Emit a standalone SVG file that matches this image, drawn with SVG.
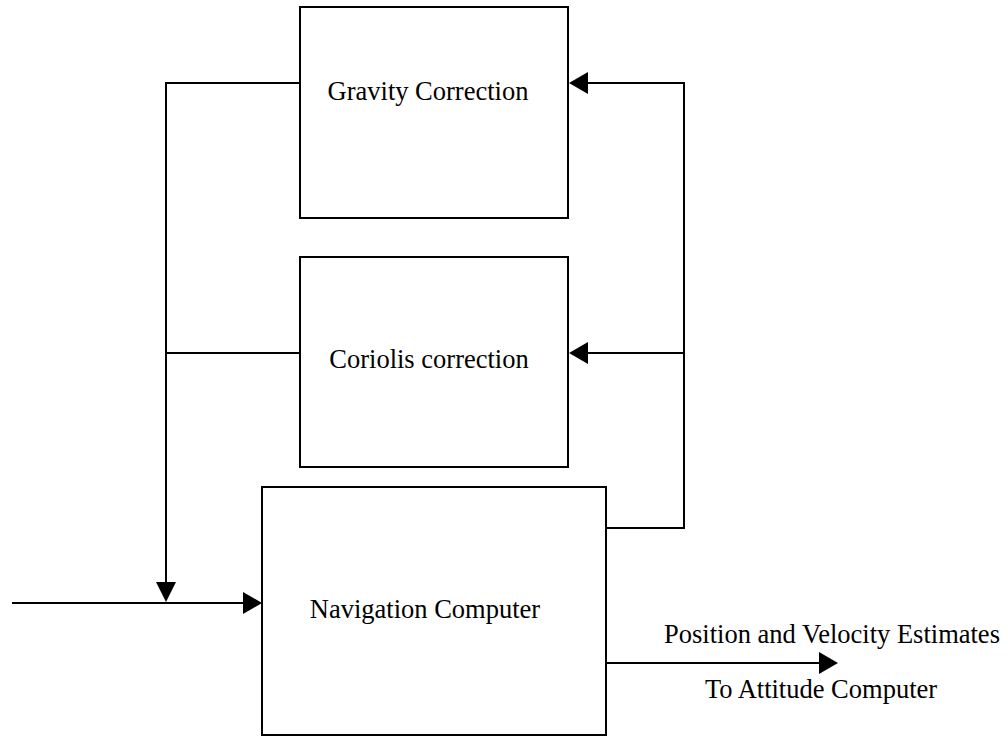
<svg xmlns="http://www.w3.org/2000/svg" width="1007" height="738" viewBox="0 0 1007 738">
<style>
.box{fill:#fff;stroke:#000;stroke-width:2}
.ln{fill:none;stroke:#000;stroke-width:2}
.ah{fill:#000;stroke:none}
text{font-family:"Liberation Serif","Times New Roman",serif;font-size:26.5px;fill:#000}
.c{text-anchor:middle}
</style>
<rect width="1007" height="738" fill="#fff"/>
<g id="gravity">
<rect class="box" x="300" y="7" width="268" height="211"/>
<text class="c" x="428" y="100">Gravity Correction</text>
</g>
<g id="coriolis">
<rect class="box" x="300" y="257" width="268" height="210"/>
<text class="c" x="429" y="368">Coriolis correction</text>
</g>
<g id="nav">
<rect class="box" x="262" y="487" width="344" height="248"/>
<text class="c" x="425" y="618">Navigation Computer</text>
</g>
<g id="connectors">
<polyline class="ln" points="300,83 166,83 166,584"/>
<line class="ln" x1="300" y1="353" x2="166" y2="353"/>
<polygon class="ah" points="156,582 176,582 166,602"/>
<line class="ln" x1="12" y1="603" x2="244" y2="603"/>
<polygon class="ah" points="243,592 243,614 262,603"/>
<polyline class="ln" points="606,528 684,528 684,83 586,83"/>
<polygon class="ah" points="569,83 588,72 588,94"/>
<line class="ln" x1="684" y1="353" x2="586" y2="353"/>
<polygon class="ah" points="569,353 588,342 588,364"/>
<line class="ln" x1="606" y1="663" x2="820" y2="663"/>
<polygon class="ah" points="819,652 819,674 838,663"/>
</g>
<g id="labels">
<text class="c" x="832" y="643">Position and Velocity Estimates</text>
<text class="c" x="821" y="698">To Attitude Computer</text>
</g>
</svg>
